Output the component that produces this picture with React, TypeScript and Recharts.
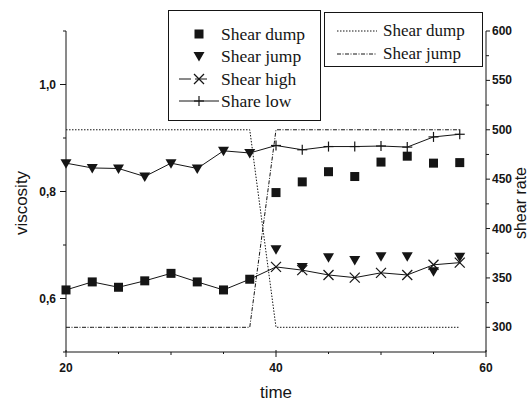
import { ComposedChart, Line, XAxis, YAxis, Label } from 'recharts'

// time axis (s)
const time = [20, 22.5, 25, 27.5, 30, 32.5, 35, 37.5, 40, 42.5, 45, 47.5, 50, 52.5, 55, 57.5]

// viscosity series (left axis)
const shearHigh = [0.616, 0.631, 0.621, 0.633, 0.647, 0.631, 0.616, 0.636, 0.659, 0.653, 0.644, 0.639, 0.648, 0.644, 0.663, 0.667]
const shareLow = [0.853, 0.844, 0.843, 0.828, 0.853, 0.843, 0.876, 0.872, 0.886, 0.878, 0.884, 0.884, 0.885, 0.883, 0.902, 0.907]
const shearDump = [null, null, null, null, null, null, null, null, 0.798, 0.818, 0.837, 0.828, 0.855, 0.866, 0.853, 0.854]
const shearJump = [null, null, null, null, null, null, null, null, 0.692, 0.659, 0.677, 0.672, 0.679, 0.679, 0.651, 0.678]

// shear rate series (right axis)
const rateDump = [500, 500, 500, 500, 500, 500, 500, 500, 300, 300, 300, 300, 300, 300, 300, 300]
const rateJump = [300, 300, 300, 300, 300, 300, 300, 300, 500, 500, 500, 500, 500, 500, 500, 500]

const xTicks = [20, 25, 30, 35, 40, 45, 50, 55, 60]
const xLabels: Record<number, string> = { 20: '20', 40: '40', 60: '60' }
const leftTicks = [0.5, 0.6, 0.7, 0.8, 0.9, 1.0, 1.1]
const leftLabels: Record<string, string> = { '0.6': '0,6', '0.8': '0,8', '1': '1,0' }
const rightTicks = [300, 325, 350, 375, 400, 425, 450, 475, 500, 525, 550, 575, 600]

const data = time.map((t, i) => ({
  time: t,
  shearHigh: shearHigh[i],
  shareLow: shareLow[i],
  shearDump: shearDump[i],
  shearJump: shearJump[i],
  rateDump: rateDump[i],
  rateJump: rateJump[i],
}))

const INK = '#151515'
const tickFont = { fontFamily: '"Liberation Sans", Arial, sans-serif', fontSize: 12, fontWeight: 700, fill: INK }
const titleFont = { fontFamily: '"Liberation Sans", Arial, sans-serif', fontSize: 17, fill: INK }
const legendFont = { fontFamily: '"Liberation Serif", "Times New Roman", serif', color: INK }

function Square({ cx, cy }: { cx: number; cy: number }) {
  return <rect x={cx - 4.5} y={cy - 4.5} width={9} height={9} fill={INK} />
}
function TriDown({ cx, cy }: { cx: number; cy: number }) {
  return <polygon points={`${cx - 5.5},${cy - 4} ${cx + 5.5},${cy - 4} ${cx},${cy + 5.5}`} fill={INK} />
}
function Cross({ cx, cy }: { cx: number; cy: number }) {
  return (
    <g stroke={INK} strokeWidth={1.2}>
      <line x1={cx - 5} y1={cy - 5} x2={cx + 5} y2={cy + 5} />
      <line x1={cx - 5} y1={cy + 5} x2={cx + 5} y2={cy - 5} />
    </g>
  )
}
function Plus({ cx, cy }: { cx: number; cy: number }) {
  return (
    <g stroke={INK} strokeWidth={1.2}>
      <line x1={cx - 5} y1={cy} x2={cx + 5} y2={cy} />
      <line x1={cx} y1={cy - 5} x2={cx} y2={cy + 5} />
    </g>
  )
}

// before the switch at t=40 the series are drawn with the other marker
const makeDot = (name: string, before: string, after: string) => (p: any) => {
  const { cx, cy, index, payload } = p
  if (cx == null || cy == null || payload?.[name] == null) return <g key={`${name}-${index}`} />
  const kind = payload.time < 40 ? before : after
  return (
    <g key={`${name}-${index}`}>
      {kind === 'square' && <Square cx={cx} cy={cy} />}
      {kind === 'tri' && <TriDown cx={cx} cy={cy} />}
      {kind === 'cross' && <Cross cx={cx} cy={cy} />}
      {kind === 'plus' && <Plus cx={cx} cy={cy} />}
    </g>
  )
}

function LeftTick(p: any) {
  const { x, y, payload } = p
  const key = String(Math.round(payload.value * 10) / 10)
  const label = leftLabels[key]
  return (
    <g>
      <line x1={x - (label ? 6 : 3)} y1={y} x2={x} y2={y} stroke={INK} />
      {label && <text x={x - 10} y={y} dy={4} textAnchor="end" {...tickFont}>{label}</text>}
    </g>
  )
}

function RightTick(p: any) {
  const { x, y, payload } = p
  const major = payload.value % 50 === 0
  return (
    <g>
      <line x1={x} y1={y} x2={x + (major ? 4 : 3)} y2={y} stroke={INK} />
      {major && <text x={x + 6} y={y} dy={4} textAnchor="start" {...tickFont}>{payload.value}</text>}
    </g>
  )
}

function BottomTick(p: any) {
  const { x, y, payload } = p
  const label = xLabels[payload.value]
  const len = label ? 5 : payload.value % 10 === 0 ? 3 : 2
  return (
    <g>
      <line x1={x} y1={y - (label ? 2 : 0)} x2={x} y2={y + len} stroke={INK} />
      {label && <text x={x} y={y + 16} dy={4} textAnchor="middle" {...tickFont}>{label}</text>}
    </g>
  )
}

function LegendMark({ kind }: { kind: string }) {
  return (
    <svg width={44} height={14} style={{ display: 'block' }}>
      {kind === 'square' && <Square cx={22} cy={7} />}
      {kind === 'tri' && <TriDown cx={22} cy={7} />}
      {kind === 'cross' && (
        <g>
          <line x1={2} y1={7} x2={42} y2={7} stroke={INK} strokeDasharray="12 4 12" />
          <Cross cx={22} cy={7} />
        </g>
      )}
      {kind === 'plus' && (
        <g>
          <line x1={2} y1={7} x2={42} y2={7} stroke={INK} />
          <Plus cx={22} cy={7} />
        </g>
      )}
      {kind === 'dotted' && <line x1={2} y1={7} x2={42} y2={7} stroke={INK} strokeDasharray="1.5 1.5" />}
      {kind === 'dashdot' && <line x1={2} y1={7} x2={42} y2={7} stroke={INK} strokeDasharray="4 1.5 1 1.5" />}
    </svg>
  )
}

const leftLegend = [
  { kind: 'square', name: 'Shear dump' },
  { kind: 'tri', name: 'Shear jump' },
  { kind: 'cross', name: 'Shear high' },
  { kind: 'plus', name: 'Share low' },
]
const rightLegend = [
  { kind: 'dotted', name: 'Shear dump' },
  { kind: 'dashdot', name: 'Shear jump' },
]

export default function App() {
  return (
    <div style={{ position: 'absolute', left: 0, top: 0, width: 531, height: 401, background: '#fff', overflow: 'hidden' }}>
      <ComposedChart width={531} height={401} data={data} margin={{ top: 31, right: 5, left: 26, bottom: 19 }}>
        <XAxis
          dataKey="time" type="number" domain={[20, 60]} ticks={xTicks} interval={0}
          height={30} tickSize={0} tickMargin={0} tickLine={false}
          axisLine={{ stroke: INK }} tick={<BottomTick />}
        >
          <Label content={() => <text x={276} y={398} textAnchor="middle" {...titleFont}>time</text>} />
        </XAxis>
        <YAxis
          yAxisId="left" domain={[0.5, 1.1]} ticks={leftTicks} interval={0} allowDataOverflow
          width={40} tickSize={0} tickMargin={0} tickLine={false}
          axisLine={{ stroke: INK }} tick={<LeftTick />}
        >
          <Label content={() => <text x={27} y={203} transform="rotate(-90 27 203)" textAnchor="middle" {...titleFont}>viscosity</text>} />
        </YAxis>
        <YAxis
          yAxisId="right" orientation="right" domain={[275, 600]} ticks={rightTicks} interval={0} allowDataOverflow
          width={40} tickSize={0} tickMargin={0} tickLine={false}
          axisLine={{ stroke: INK }} tick={<RightTick />}
        >
          <Label content={() => <text x={526} y={203} transform="rotate(-90 526 203)" textAnchor="middle" {...titleFont} fontSize={16}>shear rate</text>} />
        </YAxis>

        <Line yAxisId="right" dataKey="rateDump" stroke={INK} strokeWidth={1} strokeDasharray="1.5 1.5" dot={false} activeDot={false} isAnimationActive={false} />
        <Line yAxisId="right" dataKey="rateJump" stroke={INK} strokeWidth={1} strokeDasharray="4 1.5 1 1.5" dot={false} activeDot={false} isAnimationActive={false} />

        <Line yAxisId="left" dataKey="shearHigh" stroke={INK} strokeWidth={1} dot={makeDot('shearHigh', 'square', 'cross')} activeDot={false} isAnimationActive={false} />
        <Line yAxisId="left" dataKey="shareLow" stroke={INK} strokeWidth={1} dot={makeDot('shareLow', 'tri', 'plus')} activeDot={false} isAnimationActive={false} />
        <Line yAxisId="left" dataKey="shearDump" stroke="none" dot={makeDot('shearDump', 'square', 'square')} activeDot={false} isAnimationActive={false} />
        <Line yAxisId="left" dataKey="shearJump" stroke="none" dot={makeDot('shearJump', 'tri', 'tri')} activeDot={false} isAnimationActive={false} />
      </ComposedChart>

      {/* legend boxes */}
      <div style={{ position: 'absolute', left: 168, top: 10, width: 153, height: 111, border: `1px solid ${INK}`, background: '#fff', boxSizing: 'border-box', ...legendFont }}>
        {leftLegend.map((e, i) => (
          <div key={e.name} style={{ position: 'absolute', left: 8, top: 13 + i * 22.3, display: 'flex', alignItems: 'center', height: 20 }}>
            <LegendMark kind={e.kind} />
            <span style={{ fontSize: 17.5, marginLeft: 0, lineHeight: '20px', whiteSpace: 'nowrap' }}>{e.name}</span>
          </div>
        ))}
      </div>
      <div style={{ position: 'absolute', left: 324, top: 12, width: 159, height: 55, border: `1px solid ${INK}`, background: '#fff', boxSizing: 'border-box', ...legendFont }}>
        {rightLegend.map((e, i) => (
          <div key={e.name} style={{ position: 'absolute', left: 10, top: 8 + i * 23, display: 'flex', alignItems: 'center', height: 20 }}>
            <LegendMark kind={e.kind} />
            <span style={{ fontSize: 17, marginLeft: 4, lineHeight: '20px', whiteSpace: 'nowrap' }}>{e.name}</span>
          </div>
        ))}
      </div>
    </div>
  )
}
